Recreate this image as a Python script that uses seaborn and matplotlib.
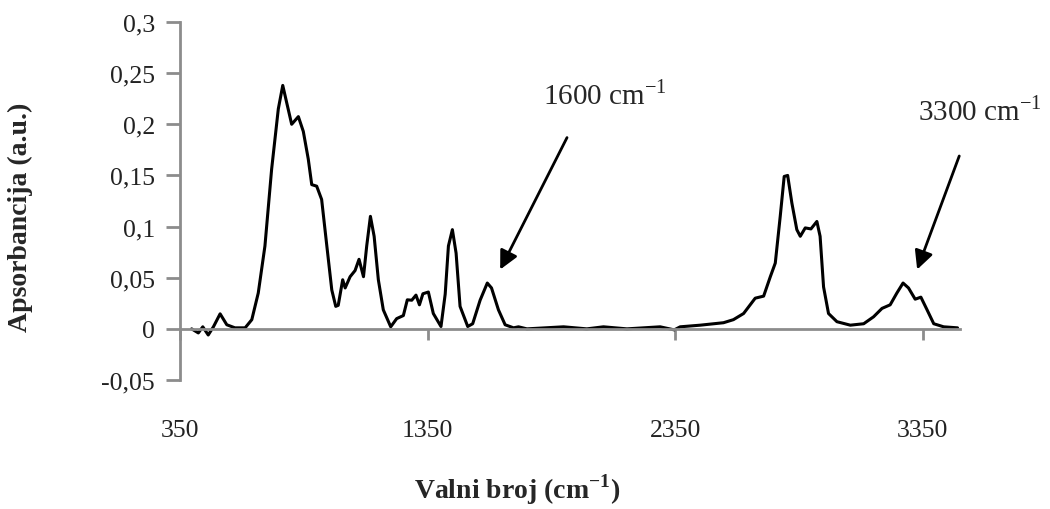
import numpy as np
import matplotlib
matplotlib.use("Agg")
import matplotlib.pyplot as plt
from matplotlib.ticker import FuncFormatter
import seaborn as sns

# spectrum
wavenumber = [397, 424, 442, 464, 485, 512, 539, 572, 613, 640, 666, 693, 720, 747, 765,
              781, 801, 828, 848, 868, 882, 902, 922, 943, 963, 979, 989, 1007, 1017, 1037,
              1057, 1073, 1091, 1104, 1119, 1134, 1151, 1171, 1201, 1225, 1252, 1268, 1286,
              1303, 1317, 1331, 1353, 1373, 1404, 1421, 1434, 1450, 1465, 1481, 1512, 1532,
              1562, 1591, 1608, 1636, 1663, 1697, 1717, 1751, 1899, 1993, 2060, 2155, 2289,
              2346, 2370, 2451, 2545, 2585, 2626, 2673, 2707, 2734, 2754, 2774, 2790, 2804,
              2821, 2841, 2855, 2875, 2898, 2922, 2935, 2949, 2969, 3003, 3057, 3111, 3151,
              3185, 3218, 3245, 3270, 3292, 3319, 3342, 3367, 3394, 3434, 3490]
absorbance = [0.000, -0.004, 0.002, -0.006, 0.002, 0.0147, 0.004, 0.001, 0.001, 0.009, 0.035,
              0.081, 0.156, 0.215, 0.238, 0.221, 0.200, 0.2075, 0.193, 0.166, 0.141, 0.1395,
              0.1265, 0.081, 0.038, 0.022, 0.023, 0.048, 0.040, 0.051, 0.057, 0.068, 0.051,
              0.081, 0.110, 0.0905, 0.048, 0.0186, 0.002, 0.010, 0.013, 0.0284, 0.028, 0.033,
              0.0235, 0.0343, 0.036, 0.015, 0.0023, 0.034, 0.081, 0.097, 0.074, 0.022, 0.0023,
              0.005, 0.028, 0.0448, 0.040, 0.0186, 0.004, 0.001, 0.002, 0.000, 0.002, 0.000,
              0.002, 0.000, 0.002, -0.001, 0.002, 0.0036, 0.006, 0.009, 0.015, 0.030, 0.032,
              0.051, 0.0643, 0.110, 0.149, 0.150, 0.123, 0.097, 0.0905, 0.0987, 0.0977, 0.105,
              0.0905, 0.041, 0.015, 0.007, 0.0036, 0.005, 0.0118, 0.020, 0.0235, 0.035, 0.0448,
              0.040, 0.029, 0.031, 0.0186, 0.005, 0.002, 0.001]

x_ticks = [350, 1350, 2350, 3350]
y_ticks = [-0.05, 0, 0.05, 0.1, 0.15, 0.2, 0.25, 0.3]

# annotated bands: label, arrow tip, arrow tail
bands = ["1600 cm$^{-1}$", "3300 cm$^{-1}$"]
arrow_tips = [(1643, 0.058), (3327, 0.058)]
arrow_tails = [(1913, 0.187), (3497, 0.169)]
label_pos = [(1817, 0.229), (3332, 0.214)]

sns.set_style("white")
plt.rcParams["font.family"] = ["Liberation Serif", "DejaVu Serif"]
plt.rcParams["mathtext.fontset"] = "custom"
plt.rcParams["mathtext.rm"] = "Liberation Serif"
plt.rcParams["mathtext.bf"] = "Liberation Serif:bold"

axis_grey = "#8c8c8c"

fig = plt.figure(figsize=(10.5, 5.1), dpi=100)
ax = fig.add_axes([180 / 1050, 1 - 381 / 510, 780 / 1050, 358 / 510])

sns.lineplot(x=wavenumber, y=absorbance, ax=ax, color="black", linewidth=2.2,
             estimator=None)

ax.set_xlim(350, 3500)
ax.set_ylim(-0.05, 0.3)

ax.spines["top"].set_visible(False)
ax.spines["right"].set_visible(False)
for s in ["left", "bottom"]:
    ax.spines[s].set_color(axis_grey)
    ax.spines[s].set_linewidth(2)
ax.spines["bottom"].set_position(("data", 0))

ax.set_yticks(y_ticks)
ax.yaxis.set_major_formatter(FuncFormatter(lambda v, p: f"{round(v, 2):g}".replace(".", ",")))
ax.tick_params(axis="y", left=True, direction="out", length=10, width=2, color=axis_grey,
               labelsize=18.5, pad=8, labelcolor="#222222")

ax.set_xticks(x_ticks)
ax.tick_params(axis="x", bottom=True, direction="out", length=8, width=2, color=axis_grey,
               labelbottom=False)

sec = ax.secondary_xaxis("bottom")
sec.set_xticks(x_ticks)
sec.spines["bottom"].set_visible(False)
sec.tick_params(axis="x", length=0, labelsize=18.5, pad=28, labelcolor="#222222")

ax.set_xlabel("")
ax.set_ylabel("")

for lab, tip, tail, pos in zip(bands, arrow_tips, arrow_tails, label_pos):
    ax.annotate("", xy=tip, xytext=tail, annotation_clip=False,
                arrowprops=dict(arrowstyle="-|>", color="black", lw=2,
                                mutation_scale=28, shrinkA=0, shrinkB=0))
    ax.text(pos[0], pos[1], lab, fontsize=21, ha="left", va="center", clip_on=False)

fig.text(20 / 1050, 1 - 217 / 510, "Apsorbancija (a.u.)", rotation=90,
         ha="center", va="center", fontsize=20, fontweight="bold")
fig.text(517 / 1050, 1 - 490 / 510, r"Valni broj (cm$^{\mathbf{-1}}$)",
         ha="center", va="center", fontsize=20, fontweight="bold")

fig.savefig("out.png", dpi=100)
